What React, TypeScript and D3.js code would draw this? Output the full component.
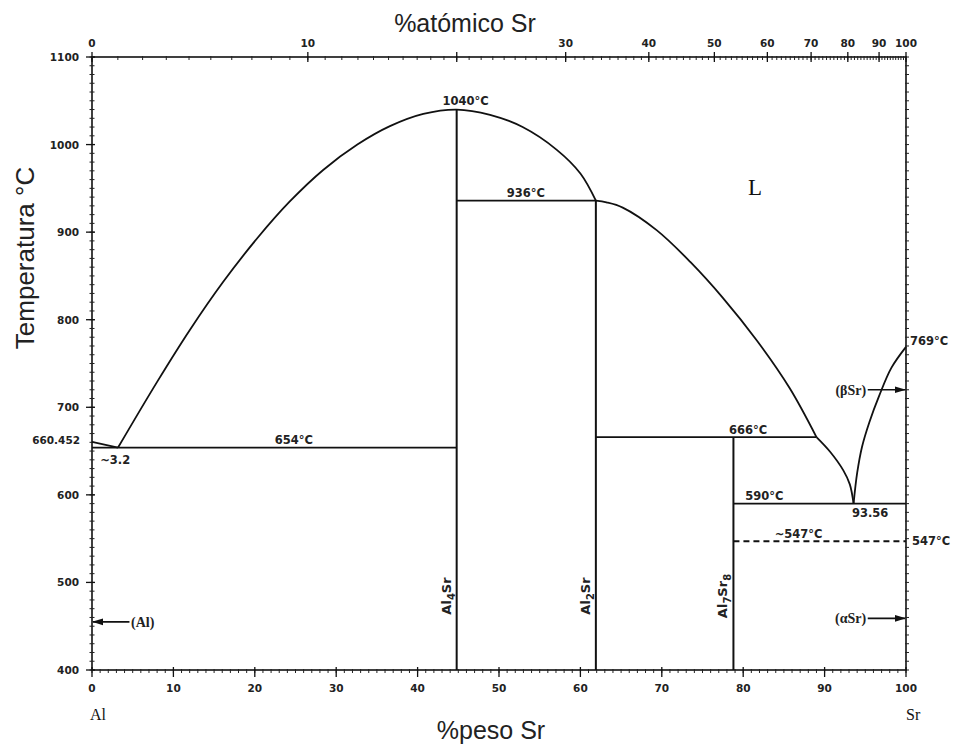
import React from "react";
import * as d3 from "d3";

// ---- data (wt% Sr, °C) ----
const alLiquidus: [number, number][] = [[0, 660.452], [3.2, 654]];
const al4SrDome: [number, number][] = [
  [3.2, 654], [8.0, 729], [12.0, 788], [16.1, 843], [20.3, 893], [24.3, 935],
  [28.4, 971], [32.6, 1000], [36.6, 1021], [40.7, 1035], [44.8, 1040],
  [48.9, 1034], [52.9, 1020], [57.1, 994], [60.0, 967], [61.9, 936],
];
const srLiquidusUpper: [number, number][] = [
  [61.9, 936], [63.2, 934], [65.2, 928], [69.4, 902], [73.5, 866], [77.5, 825],
  [81.7, 776], [85.7, 722], [89.0, 666],
];
const srLiquidusLower: [number, number][] = [
  [89.0, 666], [90.7, 649], [92.3, 628], [93.1, 612], [93.56, 590],
];
const betaSrLiquidus: [number, number][] = [
  [93.56, 590], [94.0, 625], [94.6, 655], [95.5, 683], [96.7, 713], [98.2, 745], [100, 769],
];
// horizontal invariant lines: [x1, x2, T, dashed]
const isotherms: [number, number, number, boolean][] = [
  [0, 44.8, 654, false],
  [44.8, 61.9, 936, false],
  [61.9, 89.0, 666, false],
  [78.8, 100, 590, false],
  [78.8, 100, 547, true],
];
// compounds: [x, top T, name, subscripts]
const compounds: { x: number; top: number; parts: [string, boolean][] }[] = [
  { x: 44.8, top: 1040, parts: [["Al", false], ["4", true], ["Sr", false]] },
  { x: 61.9, top: 936, parts: [["Al", false], ["2", true], ["Sr", false]] },
  { x: 78.8, top: 666, parts: [["Al", false], ["7", true], ["Sr", false], ["8", true]] },
];
const tempTicks = [400, 500, 600, 700, 800, 900, 1000, 1100];
const wtTicks = [0, 10, 20, 30, 40, 50, 60, 70, 80, 90, 100];
const atTicks = [0, 10, 20, 30, 40, 50, 60, 70, 80, 90, 100];
const atLabels = ["0", "10", "", "30", "40", "50", "60", "70", "80", "90", "100"];
// labels: [wt, T, text, anchor]
const tempLabels: [number, number, string, string][] = [
  [45.9, 1045, "1040°C", "middle"],
  [53.3, 940, "936°C", "middle"],
  [24.8, 658, "654°C", "middle"],
  [80.6, 670, "666°C", "middle"],
  [82.6, 594, "590°C", "middle"],
  [86.8, 551, "~547°C", "middle"],
  [95.6, 575, "93.56", "middle"],
  [1.0, 635, "~3.2", "start"],
];

const MW_AL = 26.98;
const MW_SR = 87.62;
const atToWt = (a: number) => (100 * a * MW_SR) / (a * MW_SR + (100 - a) * MW_AL);

export default function App() {
  const x = d3.scaleLinear().domain([0, 100]).range([92, 906]);
  const y = d3.scaleLinear().domain([400, 1100]).range([670, 57]);
  const line = d3
    .line<[number, number]>()
    .x((d) => x(d[0]))
    .y((d) => y(d[1]))
    .curve(d3.curveCatmullRom.alpha(0.5));
  const straight = d3
    .line<[number, number]>()
    .x((d) => x(d[0]))
    .y((d) => y(d[1]));

  const tickFont = "'DejaVu Sans', sans-serif";
  const minorT = d3.range(400, 1101, 10);
  const minorWt = d3.range(0, 101, 1);
  const minorAt = d3.range(0, 101, 1);

  return (
    <svg
      width={962}
      height={746}
      style={{ position: "absolute", left: 0, top: 0, background: "#fff" }}
    >
      <rect x={0} y={0} width={962} height={746} fill="#fff" />
      {/* titles */}
      <text x={465} y={32} textAnchor="middle" fontFamily="'Liberation Sans', Arial, sans-serif" fontSize={25} fill="#222">
        %atómico Sr
      </text>
      <text
        transform={`translate(34,${258}) rotate(-90)`}
        textAnchor="middle"
        fontFamily="'Liberation Sans', Arial, sans-serif"
        fontSize={26}
        fill="#222"
      >
        Temperatura °C
      </text>
      <text x={491} y={739} textAnchor="middle" fontFamily="'Liberation Sans', Arial, sans-serif" fontSize={25} fill="#222">
        %peso Sr
      </text>
      <text x={90} y={720} fontFamily="'Liberation Serif', serif" fontSize={16} fill="#111">Al</text>
      <text x={906} y={720} fontFamily="'Liberation Serif', serif" fontSize={16} fill="#111">Sr</text>

      {/* frame */}
      <rect x={x(0)} y={y(1100)} width={x(100) - x(0)} height={y(400) - y(1100)} fill="none" stroke="#111" strokeWidth={1.6} />

      {/* left axis */}
      {minorT.map((t) => (
        <line key={"lt" + t} x1={x(0) - 2.5} x2={x(0) + 2.5} y1={y(t)} y2={y(t)} stroke="#222" strokeWidth={1} />
      ))}
      {tempTicks.map((t) => (
        <g key={"T" + t}>
          <line x1={x(0) - 6} x2={x(0) + 3} y1={y(t)} y2={y(t)} stroke="#111" strokeWidth={1.3} />
          <text x={79} y={y(t) + 4} textAnchor="end" fontFamily={tickFont} fontWeight="bold" fontSize={10.5} fill="#222">
            {t}
          </text>
        </g>
      ))}
      <text x={80} y={y(660.452) + 2} textAnchor="end" fontFamily={tickFont} fontWeight="bold" fontSize={10.5} fill="#222">
        660.452
      </text>
      {/* right axis minor ticks */}
      {minorT.map((t) => (
        <line key={"rt" + t} x1={x(100) - 1} x2={x(100) + 3} y1={y(t)} y2={y(t)} stroke="#222" strokeWidth={1} />
      ))}

      {/* bottom axis */}
      {minorWt.map((w) => (
        <line key={"bw" + w} x1={x(w)} x2={x(w)} y1={y(400) - 1} y2={y(400) + 3} stroke="#222" strokeWidth={1} />
      ))}
      {wtTicks.map((w) => (
        <g key={"W" + w}>
          <line x1={x(w)} x2={x(w)} y1={y(400) - 3} y2={y(400) + 7} stroke="#111" strokeWidth={1.3} />
          <text x={x(w)} y={y(400) + 22} textAnchor="middle" fontFamily={tickFont} fontWeight="bold" fontSize={10.5} fill="#222">
            {w}
          </text>
        </g>
      ))}

      {/* top axis (atomic %) */}
      {minorAt.map((a) => (
        <line key={"ta" + a} x1={x(atToWt(a))} x2={x(atToWt(a))} y1={y(1100) - 1} y2={y(1100) + 3} stroke="#222" strokeWidth={1} />
      ))}
      {atTicks.map((a, i) => (
        <g key={"A" + a}>
          <line x1={x(atToWt(a))} x2={x(atToWt(a))} y1={y(1100) - 5} y2={y(1100) + 5} stroke="#111" strokeWidth={1.3} />
          <text x={x(atToWt(a))} y={y(1100) - 10} textAnchor="middle" fontFamily={tickFont} fontWeight="bold" fontSize={10.5} fill="#222">
            {atLabels[i]}
          </text>
        </g>
      ))}

      {/* phase boundaries */}
      <g fill="none" stroke="#111" strokeWidth={1.8}>
        <path d={straight(alLiquidus) || ""} />
        <path d={line(al4SrDome) || ""} />
        <path d={line(srLiquidusUpper) || ""} />
        <path d={line(srLiquidusLower) || ""} />
        <path d={line(betaSrLiquidus) || ""} />
        {isotherms.map(([a, b, t, dashed], i) => (
          <line key={"iso" + i} x1={x(a)} x2={x(b)} y1={y(t)} y2={y(t)} strokeDasharray={dashed ? "6,4" : undefined} />
        ))}
        {compounds.map((c, i) => (
          <line key={"cmp" + i} x1={x(c.x)} x2={x(c.x)} y1={y(c.top)} y2={y(400)} strokeWidth={2} />
        ))}
      </g>

      {/* compound labels */}
      {compounds.map((c, i) => (
        <text
          key={"cl" + i}
          transform={`translate(${x(c.x) - 6},${y(400) - 74}) rotate(-90)`}
          textAnchor="middle"
          fontFamily={tickFont}
          fontWeight="bold"
          fontSize={13}
          fill="#222"
        >
          {c.parts.map(([s, sub], j) => (
            <tspan key={j} dy={sub ? 4 : j > 0 && c.parts[j - 1][1] ? -4 : 0} fontSize={sub ? 10 : 13}>
              {s}
            </tspan>
          ))}
        </text>
      ))}

      {/* temperature labels */}
      {tempLabels.map(([w, t, s, anchor], i) => (
        <text key={"tl" + i} x={x(w)} y={y(t)} textAnchor={anchor as any} fontFamily={tickFont} fontWeight="bold" fontSize={11.5} fill="#222">
          {s}
        </text>
      ))}
      <text x={x(100) + 4} y={y(769) - 2} fontFamily={tickFont} fontWeight="bold" fontSize={11.5} fill="#222">769°C</text>
      <text x={x(100) + 6} y={y(547) + 4} fontFamily={tickFont} fontWeight="bold" fontSize={11.5} fill="#222">547°C</text>

      {/* L */}
      <text x={x(80.6)} y={y(942)} fontFamily="'Liberation Serif', serif" fontSize={23} fill="#111">L</text>

      {/* solid-phase arrows */}
      <defs>
        <marker id="arr" viewBox="0 0 10 10" refX={9} refY={5} markerWidth={7} markerHeight={7} orient="auto">
          <path d="M0,2 L10,5 L0,8 z" fill="#111" />
        </marker>
      </defs>
      <line x1={x(4.6)} x2={x(0) + 1} y1={y(455)} y2={y(455)} stroke="#111" strokeWidth={1.6} markerEnd="url(#arr)" />
      <text x={x(4.8)} y={y(455) + 5} fontFamily="'Liberation Serif', serif" fontWeight="bold" fontSize={14} fill="#222">(Al)</text>
      <line x1={x(95.3)} x2={x(100) - 1} y1={y(720)} y2={y(720)} stroke="#111" strokeWidth={1.6} markerEnd="url(#arr)" />
      <text x={x(95.1)} y={y(720) + 5} textAnchor="end" fontFamily="'Liberation Serif', serif" fontWeight="bold" fontSize={14} fill="#222">(βSr)</text>
      <line x1={x(95.3)} x2={x(100) - 1} y1={y(459)} y2={y(459)} stroke="#111" strokeWidth={1.6} markerEnd="url(#arr)" />
      <text x={x(95.1)} y={y(459) + 5} textAnchor="end" fontFamily="'Liberation Serif', serif" fontWeight="bold" fontSize={14} fill="#222">(αSr)</text>
    </svg>
  );
}
